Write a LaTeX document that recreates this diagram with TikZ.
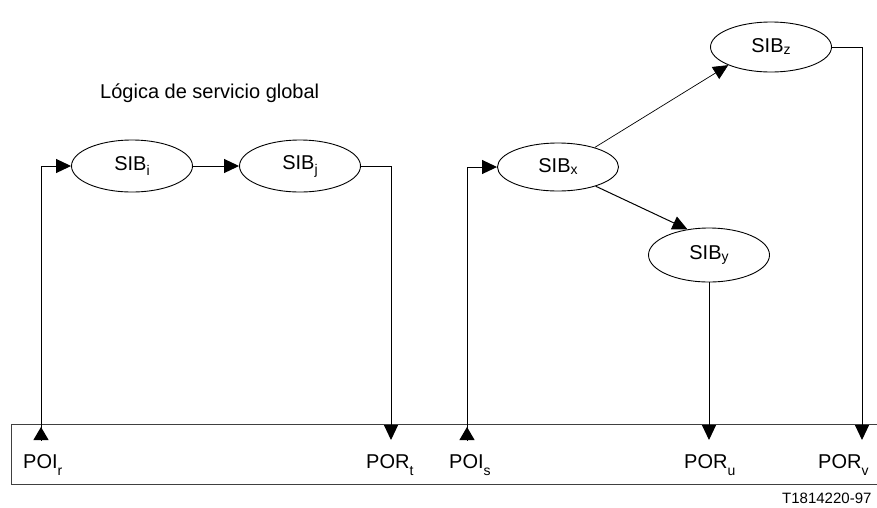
\documentclass[tikz,border=0pt]{standalone}
\usepackage{fontspec}
\setmainfont{Liberation Sans}
\usetikzlibrary{arrows.meta,shapes.geometric}
% lowered, smaller index text
\newcommand\lowsub[2]{\raisebox{-#1}{\fontsize{14pt}{14pt}\selectfont #2}}

\begin{document}
\begin{tikzpicture}[x=1pt,y=-1pt,
  sib/.style={ellipse, draw, line width=0.9pt, minimum width=121pt,
    minimum height=50pt, inner sep=0pt, font=\fontsize{20pt}{20pt}\selectfont},
  link/.style={line width=1pt},
  flow/.style={link, -{Triangle[length=15pt,width=14pt]}},
  marker/.style={link, -{Triangle[length=13pt,width=15pt]}},
  portlabel/.style={anchor=base west, inner sep=0pt, font=\fontsize{20pt}{20pt}\selectfont},
  ]
\useasboundingbox (0,0) rectangle (877,507);

% title
\node[anchor=base west, inner sep=0pt, font=\fontsize{20pt}{20pt}\selectfont]
  (title) at (100,98) {Lógica de servicio global};

% service independent building blocks
\node[sib, minimum height=52pt] (sibi) at (132,166) {SIB\lowsub{5pt}{i}};
\node[sib, minimum height=52pt] (sibj) at (300,166) {SIB\lowsub{5pt}{j}};
\node[sib, minimum height=48pt] (sibx) at (558,167) {SIB\lowsub{2pt}{x}};
\node[sib, minimum height=54pt] (siby) at (709,255) {SIB\lowsub{2pt}{y}};
\node[sib] (sibz) at (771,47) {SIB\lowsub{2pt}{z}};

% basic call process bar
\node[draw=black!75, line width=1.4pt, anchor=north west, minimum width=890pt,
  minimum height=60pt, inner sep=0pt] (bcp) at (11,424) {};

% points of initiation / return
\coordinate (poir) at (41,440);
\coordinate (port) at (391,440);
\coordinate (pois) at (467,440);
\coordinate (poru) at (709,440);
\coordinate (porv) at (862,440);

% connectors
\draw[flow] (poir) |- (sibi.west);
\draw[flow] (sibi.east) -- (sibj.west);
\draw[flow] (sibj.east) -| (port);
\draw[flow] (pois) |- (sibx.west);
\draw[flow, line width=0.7pt] (sibx.28) -- (sibz.203);
\draw[flow] (sibx.-27) -- (siby.130);
\draw[flow] (siby) -- (poru);
\draw[flow] (sibz.east) -| (porv);

% upward markers at the initiation points
\draw[marker] (poir) -- ++(0,-13);
\draw[marker] (pois) -- ++(0,-13);

% point labels
\node[portlabel] (lpoir) at (23,468) {POI\lowsub{7pt}{r}};
\node[portlabel] (lport) at (366,468) {POR\lowsub{7pt}{t}};
\node[portlabel] (lpois) at (449,468) {POI\lowsub{7pt}{s}};
\node[portlabel] (lporu) at (684,468) {POR\lowsub{7pt}{u}};
\node[portlabel] (lporv) at (818,468) {POR\lowsub{7pt}{v}};

% figure code
\node[anchor=base west, inner sep=0pt, font=\fontsize{15pt}{15pt}\selectfont]
  (code) at (782,503) {T1814220-97};
\end{tikzpicture}
\end{document}
